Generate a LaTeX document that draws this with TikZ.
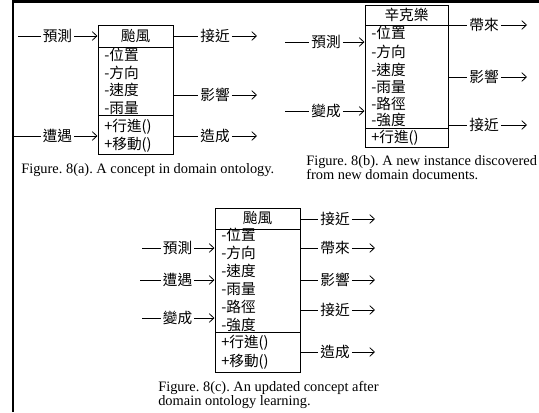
\documentclass[tikz,border=0pt]{standalone}
\usepackage{fontspec}
\setmainfont{Liberation Serif}
\newfontfamily\cjk{Noto Sans CJK TC}
\usetikzlibrary{arrows.meta,fit}
\frenchspacing
\tikzset{
  x=0.75pt, y=-0.75pt,
  cls/.style={draw, line width=0.75pt, inner sep=0pt},
  item/.style={font=\cjk\fontsize{11}{12}\selectfont, anchor=west, inner sep=0pt},
  ttl/.style={font=\cjk\fontsize{11}{12}\selectfont, inner sep=0pt},
  lbl/.style={font=\cjk\fontsize{11}{12}\selectfont, inner sep=1.5pt},
  ln/.style={line width=0.6pt},
  arr/.style={line width=0.6pt, -{Straight Barb[length=3.5pt,width=6.5pt,line width=0.6pt]}},
  captext/.style={font=\fontsize{10.8}{10.6}\selectfont, align=left, inner sep=0pt, anchor=west},
  frame/.style={line width=1.6pt}
}
\begin{document}
\begin{tikzpicture}
\useasboundingbox (0,0) rectangle (539,412);
% frame
\coordinate (f1) at (13,412);
\coordinate (f2) at (13,1.5);
\coordinate (f3) at (539,1.5);
\draw[frame] (f1) -- (f2) -- (f3);

% ---------- Figure 8(a) ----------
\node[cls, fit={(98,25)(173,154)}] (A) {};
\coordinate (Ad1) at (98,47); \coordinate (Ad1e) at (173,47);
\coordinate (Ad2) at (98,115); \coordinate (Ad2e) at (173,115);
\draw[line width=0.75pt] (Ad1) -- (Ad1e);
\draw[line width=0.75pt] (Ad2) -- (Ad2e);
\node[ttl] (At) at (135.5,36) {颱風};
\node[item] (Aa1) at (104,55) {-位置};
\node[item] (Aa2) at (104,73) {-方向};
\node[item] (Aa3) at (104,90) {-速度};
\node[item] (Aa4) at (104,108) {-雨量};
\node[item] (Am1) at (104,127) {+行進()};
\node[item] (Am2) at (104,145) {+移動()};

\coordinate (aL1s) at (18,36);
\node[lbl] (aL1) at (57.5,36) {預測};
\draw[ln] (aL1s) -- (aL1);
\draw[arr] (aL1) -- (aL1 -| A.west);
\coordinate (aL2s) at (14,136);
\node[lbl] (aL2) at (57.5,136) {遭遇};
\draw[ln] (aL2s) -- (aL2);
\draw[arr] (aL2) -- (aL2 -| A.west);

\node[lbl] (aR1) at (215,36) {接近};
\coordinate (aR1e) at (257,36);
\draw[ln] (aR1 -| A.east) -- (aR1);
\draw[arr] (aR1) -- (aR1e);
\node[lbl] (aR2) at (215,95) {影響};
\coordinate (aR2e) at (257,95);
\draw[ln] (aR2 -| A.east) -- (aR2);
\draw[arr] (aR2) -- (aR2e);
\node[lbl] (aR3) at (215,136) {造成};
\coordinate (aR3e) at (257,136);
\draw[ln] (aR3 -| A.east) -- (aR3);
\draw[arr] (aR3) -- (aR3e);

\node[captext] (capA) at (21,170) {Figure. 8(a). A concept in domain ontology.};

% ---------- Figure 8(b) ----------
\node[cls, fit={(365,5)(448,147)}] (B) {};
\coordinate (Bd1) at (365,25); \coordinate (Bd1e) at (448,25);
\coordinate (Bd2) at (365,128); \coordinate (Bd2e) at (448,128);
\draw[line width=0.75pt] (Bd1) -- (Bd1e);
\draw[line width=0.75pt] (Bd2) -- (Bd2e);
\node[ttl] (Bt) at (406.5,15) {辛克樂};
\node[item] (Ba1) at (371,33) {-位置};
\node[item] (Ba2) at (371,52) {-方向};
\node[item] (Ba3) at (371,70) {-速度};
\node[item] (Ba4) at (371,87) {-雨量};
\node[item] (Ba5) at (371,104) {-路徑};
\node[item] (Ba6) at (371,120) {-強度};
\node[item] (Bm1) at (371,138) {+行進()};

\coordinate (bL1s) at (285,42);
\node[lbl] (bL1) at (326,42) {預測};
\draw[ln] (bL1s) -- (bL1);
\draw[arr] (bL1) -- (bL1 -| B.west);
\coordinate (bL2s) at (285,111);
\node[lbl] (bL2) at (326,111) {變成};
\draw[ln] (bL2s) -- (bL2);
\draw[arr] (bL2) -- (bL2 -| B.west);

\node[lbl] (bR1) at (484,25) {帶來};
\coordinate (bR1e) at (527,25);
\draw[ln] (bR1 -| B.east) -- (bR1);
\draw[arr] (bR1) -- (bR1e);
\node[lbl] (bR2) at (484,77) {影響};
\coordinate (bR2e) at (527,77);
\draw[ln] (bR2 -| B.east) -- (bR2);
\draw[arr] (bR2) -- (bR2e);
\node[lbl] (bR3) at (484,125) {接近};
\coordinate (bR3e) at (527,125);
\draw[ln] (bR3 -| B.east) -- (bR3);
\draw[arr] (bR3) -- (bR3e);

\node[captext] (capB) at (306,168) {Figure. 8(b). A new instance discovered\\from new domain documents.};

% ---------- Figure 8(c) ----------
\node[cls, fit={(215,208)(300,372)}] (C) {};
\coordinate (Cd1) at (215,229); \coordinate (Cd1e) at (300,229);
\coordinate (Cd2) at (215,332); \coordinate (Cd2e) at (300,332);
\draw[line width=0.75pt] (Cd1) -- (Cd1e);
\draw[line width=0.75pt] (Cd2) -- (Cd2e);
\node[ttl] (Ct) at (257.5,218) {颱風};
\node[item] (Ca1) at (221,235) {-位置};
\node[item] (Ca2) at (221,253) {-方向};
\node[item] (Ca3) at (221,271) {-速度};
\node[item] (Ca4) at (221,289) {-雨量};
\node[item] (Ca5) at (221,307) {-路徑};
\node[item] (Ca6) at (221,325) {-強度};
\node[item] (Cm1) at (221,343) {+行進()};
\node[item] (Cm2) at (221,362) {+移動()};

\coordinate (cL1s) at (142,248);
\node[lbl] (cL1) at (177.5,248) {預測};
\draw[ln] (cL1s) -- (cL1);
\draw[arr] (cL1) -- (cL1 -| C.west);
\coordinate (cL2s) at (140,280);
\node[lbl] (cL2) at (177.5,280) {遭遇};
\draw[ln] (cL2s) -- (cL2);
\draw[arr] (cL2) -- (cL2 -| C.west);
\coordinate (cL3s) at (142,318);
\node[lbl] (cL3) at (177.5,318) {變成};
\draw[ln] (cL3s) -- (cL3);
\draw[arr] (cL3) -- (cL3 -| C.west);

\node[lbl] (cR1) at (335,219) {接近};
\coordinate (cR1e) at (375,219);
\draw[ln] (cR1 -| C.east) -- (cR1);
\draw[arr] (cR1) -- (cR1e);
\node[lbl] (cR2) at (335,248) {帶來};
\coordinate (cR2e) at (375,248);
\draw[ln] (cR2 -| C.east) -- (cR2);
\draw[arr] (cR2) -- (cR2e);
\node[lbl] (cR3) at (335,280) {影響};
\coordinate (cR3e) at (375,280);
\draw[ln] (cR3 -| C.east) -- (cR3);
\draw[arr] (cR3) -- (cR3e);
\node[lbl] (cR4) at (335,310) {接近};
\coordinate (cR4e) at (375,310);
\draw[ln] (cR4 -| C.east) -- (cR4);
\draw[arr] (cR4) -- (cR4e);
\node[lbl] (cR5) at (335,352) {造成};
\coordinate (cR5e) at (375,352);
\draw[ln] (cR5 -| C.east) -- (cR5);
\draw[arr] (cR5) -- (cR5e);

\node[captext] (capC) at (158,395) {Figure. 8(c). An updated concept after\\domain ontology learning.};
\end{tikzpicture}
\end{document}
